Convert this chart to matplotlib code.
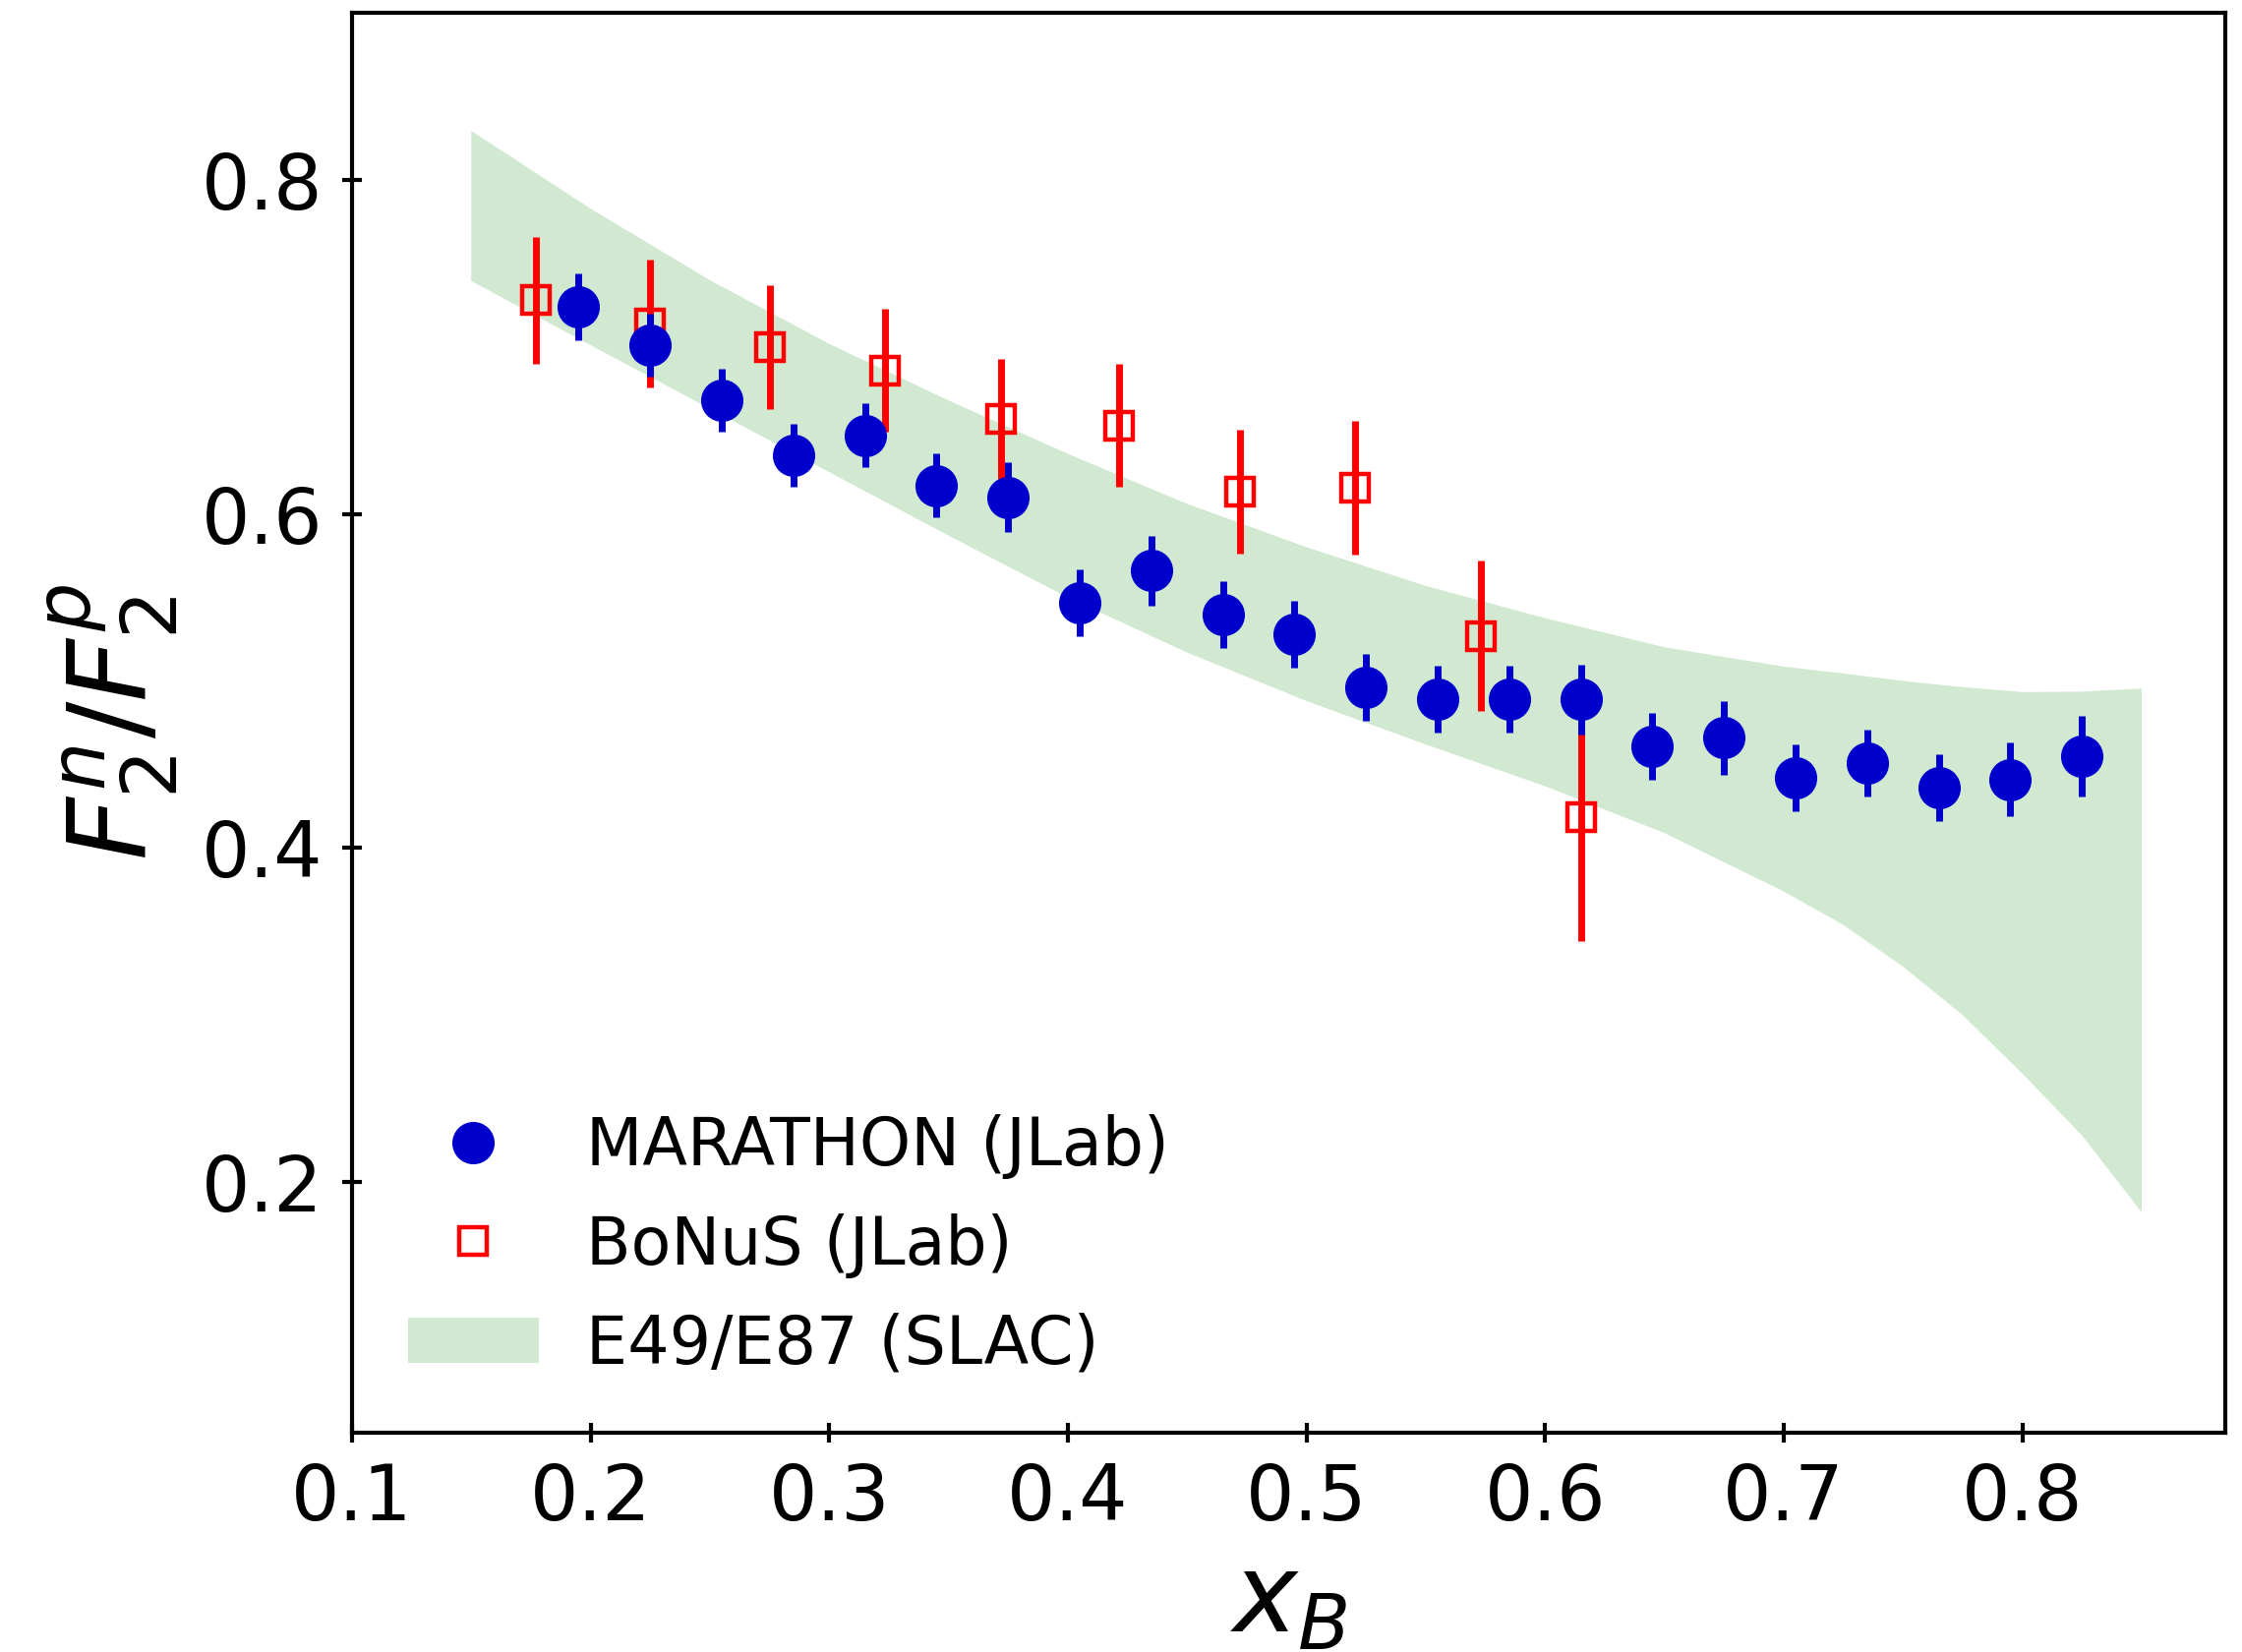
import numpy as np
import matplotlib
matplotlib.use('Agg')
from matplotlib import pyplot as plt

# MARATHON (JLab): x_B, F2n/F2p, error
x_mar = [0.195, 0.225, 0.255, 0.285, 0.315, 0.345, 0.375, 0.405, 0.435, 0.465, 0.495,
         0.525, 0.555, 0.585, 0.615, 0.645, 0.675, 0.705, 0.735, 0.765, 0.795, 0.825]
r_mar = [0.724, 0.701, 0.668, 0.635, 0.647, 0.617, 0.610, 0.547, 0.566, 0.540, 0.528,
         0.496, 0.489, 0.489, 0.489, 0.461, 0.466, 0.442, 0.451, 0.436, 0.441, 0.455]
e_mar = [0.020, 0.019, 0.019, 0.019, 0.019, 0.019, 0.021, 0.020, 0.021, 0.020, 0.020,
         0.020, 0.020, 0.020, 0.021, 0.020, 0.022, 0.020, 0.020, 0.020, 0.022, 0.024]

# BoNuS (JLab)
x_bon = [0.177, 0.225, 0.275, 0.3235, 0.372, 0.4215, 0.472, 0.5205, 0.573, 0.615]
r_bon = [0.728, 0.714, 0.700, 0.686, 0.657, 0.653, 0.6135, 0.6155, 0.527, 0.4185]
e_bon = [0.038, 0.038, 0.037, 0.037, 0.036, 0.037, 0.037, 0.040, 0.045, 0.074]

# E49/E87 (SLAC) band, upper and lower edge
x_slac = [0.15, 0.20, 0.25, 0.30, 0.35, 0.40, 0.45, 0.50, 0.55, 0.60, 0.65,
          0.70, 0.725, 0.75, 0.775, 0.80, 0.825, 0.85]
hi_slac = [0.8293, 0.7827, 0.7399, 0.7018, 0.6679, 0.6360, 0.6060, 0.5801, 0.5569,
           0.5376, 0.5202, 0.5086, 0.5045, 0.5000, 0.4963, 0.4934, 0.4936, 0.4955]
lo_slac = [0.7394, 0.7010, 0.6630, 0.6250, 0.5870, 0.5500, 0.5170, 0.4880, 0.4620,
           0.4370, 0.4090, 0.3740, 0.3540, 0.3290, 0.3000, 0.2650, 0.2280, 0.1820]

fig = plt.figure(figsize=(11.4, 8.4), dpi=200)
ax = fig.add_axes([0.157, 0.1327, 0.8355, 0.8596])

band = ax.fill_between(x_slac, lo_slac, hi_slac, facecolor='green', alpha=0.18,
                       lw=0, label='E49/E87 (SLAC)')

ax.errorbar(x_bon, r_bon, yerr=e_bon, fmt='none', ecolor='red', elinewidth=2.5, capsize=0)
bon, = ax.plot(x_bon, r_bon, 's', ms=10, mfc='none', mec='red', mew=1.6,
               label='BoNuS (JLab)')
ax.errorbar(x_mar, r_mar, yerr=e_mar, fmt='none', ecolor='mediumblue', elinewidth=2.5,
            capsize=0)
mar, = ax.plot(x_mar, r_mar, 'o', ms=15, color='mediumblue', mew=0.5,
               label='MARATHON (JLab)')

ax.set_xlim(0.1, 0.885)
ax.set_ylim(0.05, 0.9)
ax.set_xticks([0.1, 0.2, 0.3, 0.4, 0.5, 0.6, 0.7, 0.8])
ax.set_yticks([0.2, 0.4, 0.6, 0.8])
ax.tick_params(direction='inout', length=7, width=1.5, labelsize=28, pad=7)
for s in ax.spines.values():
    s.set_linewidth(1.5)

ax.set_xlabel('$x_B$', fontsize=40, labelpad=5)
ax.set_ylabel('$F_2^n/F_2^p$', fontsize=40, labelpad=8)

ax.legend(handles=[mar, bon, band], loc='lower left', fontsize=24, frameon=False,
          numpoints=1, labelspacing=0.52, handletextpad=0.72, borderaxespad=0.45)

fig.savefig('out.png', dpi=200)
